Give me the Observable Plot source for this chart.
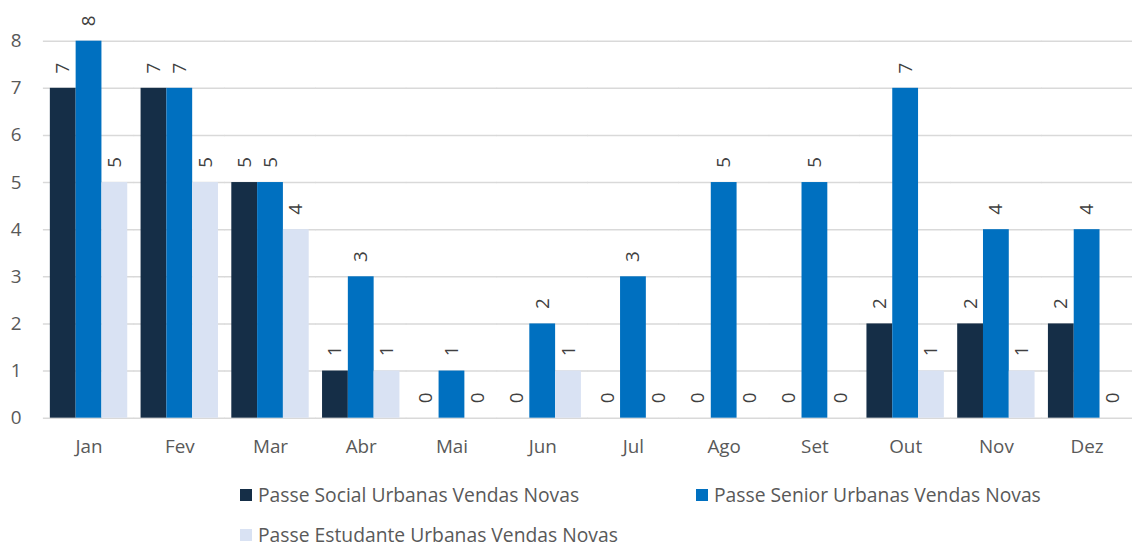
<!DOCTYPE html>
<html>
<head>
<meta charset="utf-8">
<script src="https://cdn.jsdelivr.net/npm/d3@7"></script>
<script src="https://cdn.jsdelivr.net/npm/@observablehq/plot@0.6"></script>
<style>
  html, body { margin: 0; padding: 0; background: #fff; }
  body { width: 1132px; height: 547px; overflow: hidden; font-family: "Open Sans", "Noto Sans", sans-serif; }
  #chart { width: 1132px; overflow: hidden; }
  #legend { position: relative; height: 77px; color: #595959; font-size: 19.3px; }
  .item { position: absolute; display: flex; align-items: center; white-space: nowrap; line-height: 24px; height: 24px; }
  .sw { width: 12px; height: 12px; margin-right: 6px; }
</style>
</head>
<body>
<div id="chart"></div>
<div id="legend"></div>
<script>
const months = ["Jan","Fev","Mar","Abr","Mai","Jun","Jul","Ago","Set","Out","Nov","Dez"];
const seriesNames = ["Passe Social Urbanas Vendas Novas","Passe Senior Urbanas Vendas Novas","Passe Estudante Urbanas Vendas Novas"];
const social    = [7,7,5,1,0,0,0,0,0,2,2,2];
const senior    = [8,7,5,3,1,2,3,5,5,7,4,4];
const estudante = [5,5,4,1,0,1,0,0,0,1,1,0];
const colors = ["#152E47","#0070C0","#D9E2F3"];
const yTicks = [0,1,2,3,4,5,6,7,8];

const seriesValues = [social, senior, estudante];
const data = [];
months.forEach((m, i) => {
  seriesNames.forEach((s, j) => data.push({month: m, series: s, value: seriesValues[j][i]}));
});

const chart = Plot.plot({
  width: 1141,
  height: 470,
  marginLeft: 43.5,
  marginRight: 0,
  marginTop: 41,
  marginBottom: 49,
  style: {fontFamily: "'Open Sans', 'Noto Sans', sans-serif", fontSize: "19px", color: "#595959", background: "#fff", overflow: "visible"},
  fx: {domain: months, paddingInner: 0.147, paddingOuter: 0.0735, round: false, label: null},
  x: {domain: seriesNames, padding: 0, round: false, axis: null},
  y: {domain: [0, 8], axis: null},
  color: {domain: seriesNames, range: colors},
  marks: [
    Plot.gridY(yTicks, {stroke: "#D9D9D9", strokeOpacity: 1, strokeWidth: 1.5, insetLeft: -7, insetRight: -7}),
    Plot.axisY(yTicks, {tickSize: 0, tickPadding: 29, label: null, fill: "#595959", fontSize: 19}),
    Plot.axisFx({anchor: "bottom", tickSize: 0, tickPadding: 22, label: null, fill: "#595959", fontSize: 19}),
    Plot.barY(data, {fx: "month", x: "series", y: "value", fill: "series"}),
    Plot.text(data, {fx: "month", x: "series", y: "value", text: d => String(d.value),
      rotate: -90, textAnchor: "start", dy: -15, fill: "#404040", fontSize: 19})
  ]
});
document.getElementById("chart").appendChild(chart);

const legend = document.getElementById("legend");
const pos = [[240, 17], [696, 17], [240, 57]];
seriesNames.forEach((s, j) => {
  const it = document.createElement("div");
  it.className = "item";
  it.style.left = pos[j][0] + "px";
  it.style.top = pos[j][1] + "px";
  const sw = document.createElement("span");
  sw.className = "sw";
  sw.style.background = colors[j];
  const t = document.createElement("span");
  t.textContent = s;
  it.appendChild(sw); it.appendChild(t);
  legend.appendChild(it);
});
</script>
</body>
</html>
